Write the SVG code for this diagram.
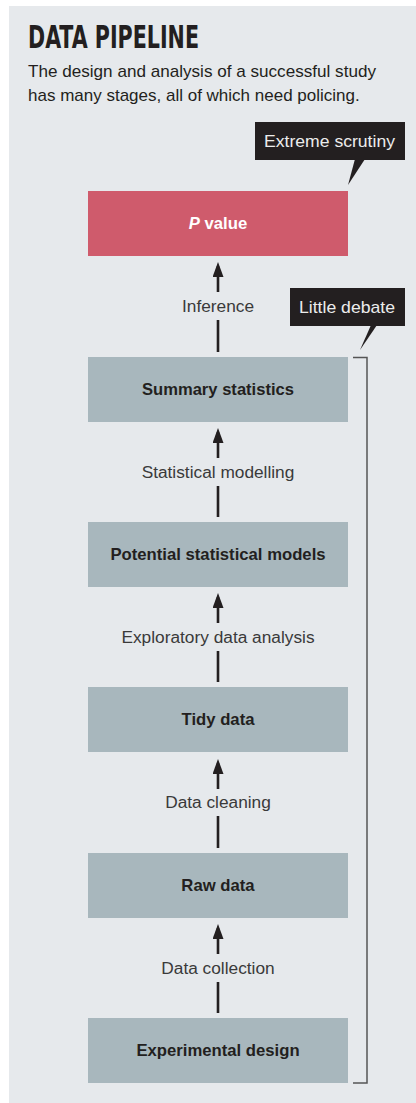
<svg xmlns="http://www.w3.org/2000/svg" width="416" height="1103" viewBox="0 0 416 1103">
<defs>
<style>
.panel{fill:#e6e9ec}
.box{fill:#a8b7bd}
.pbox{fill:#cf5b6c}
.blbl{font-family:"Liberation Sans",Arial,sans-serif;font-weight:bold;font-size:16.7px;fill:#231f20;text-anchor:middle}
.elbl{font-family:"Liberation Sans",Arial,sans-serif;font-size:17.3px;fill:#3a3a3a;text-anchor:middle}
.conn{stroke:#231f20;stroke-width:2.6;fill:none}
.call{fill:#231f20}
.ctxt{font-family:"Liberation Sans",Arial,sans-serif;font-size:17px;fill:#ececec}
.brk{stroke:#555;stroke-width:1.5;fill:none}
</style>
<marker id="ah" viewBox="0 0 15 11" refX="11" refY="5.5" markerWidth="15" markerHeight="11" markerUnits="userSpaceOnUse" orient="auto">
<path d="M0,0 L15,5.5 L0,11 Z" fill="#231f20"/>
</marker>
</defs>
<rect class="panel" x="9" y="6" width="407" height="1097"/>
<g id="title">
<text x="28" y="48" font-family="'Liberation Sans Narrow','DejaVu Sans Condensed','Roboto Condensed',sans-serif" font-stretch="condensed" font-weight="bold" font-size="32" fill="#231f20" textLength="171" lengthAdjust="spacingAndGlyphs">DATA PIPELINE</text>
<text x="28" y="77" font-family="'Liberation Sans',Arial,sans-serif" font-size="17" fill="#231f20" textLength="348" lengthAdjust="spacingAndGlyphs">The design and analysis of a successful study</text>
<text x="28" y="101" font-family="'Liberation Sans',Arial,sans-serif" font-size="17" fill="#231f20">has many stages, all of which need policing.</text>
</g>
<g id="connectors">
<line class="conn" x1="218" y1="292" x2="218" y2="266" marker-end="url(#ah)"/>
<line class="conn" x1="218" y1="320" x2="218" y2="352"/>
<text class="elbl" x="218" y="312">Inference</text>
<line class="conn" x1="218" y1="458" x2="218" y2="432" marker-end="url(#ah)"/>
<line class="conn" x1="218" y1="486" x2="218" y2="517"/>
<text class="elbl" x="218" y="478">Statistical modelling</text>
<line class="conn" x1="218" y1="623" x2="218" y2="597" marker-end="url(#ah)"/>
<line class="conn" x1="218" y1="651" x2="218" y2="682"/>
<text class="elbl" x="218" y="643">Exploratory data analysis</text>
<line class="conn" x1="218" y1="789" x2="218" y2="763" marker-end="url(#ah)"/>
<line class="conn" x1="218" y1="816" x2="218" y2="848"/>
<text class="elbl" x="218" y="808">Data cleaning</text>
<line class="conn" x1="218" y1="954" x2="218" y2="928" marker-end="url(#ah)"/>
<line class="conn" x1="218" y1="982" x2="218" y2="1013"/>
<text class="elbl" x="218" y="974">Data collection</text>
</g>
<g id="pvalue">
<rect class="pbox" x="88" y="191" width="260" height="65"/>
<text x="218" y="229" text-anchor="middle" font-family="'Liberation Sans',Arial,sans-serif" font-weight="bold" font-size="16.7" fill="#ffffff"><tspan font-style="italic">P</tspan> value</text>
</g>
<g id="summary">
<rect class="box" x="88" y="357" width="260" height="65"/>
<text class="blbl" x="218" y="395" textLength="152" lengthAdjust="spacingAndGlyphs">Summary statistics</text>
</g>
<g id="models">
<rect class="box" x="88" y="522" width="260" height="65"/>
<text class="blbl" x="218" y="560">Potential statistical models</text>
</g>
<g id="tidy">
<rect class="box" x="88" y="687" width="260" height="65"/>
<text class="blbl" x="218" y="725">Tidy data</text>
</g>
<g id="raw">
<rect class="box" x="88" y="853" width="260" height="65"/>
<text class="blbl" x="218" y="891">Raw data</text>
</g>
<g id="design">
<rect class="box" x="88" y="1018" width="260" height="65"/>
<text class="blbl" x="218" y="1056">Experimental design</text>
</g>
<g id="extreme-scrutiny">
<rect class="call" x="255" y="122" width="150" height="38"/>
<path class="call" d="M355,159 L365,159 L348,185 Z"/>
<text class="ctxt" x="264" y="147" textLength="131" lengthAdjust="spacingAndGlyphs">Extreme scrutiny</text>
</g>
<g id="little-debate">
<rect class="call" x="290" y="288" width="115" height="38"/>
<path class="call" d="M371,325 L377,325 L360,350 Z"/>
<text class="ctxt" x="299" y="313" textLength="96" lengthAdjust="spacingAndGlyphs">Little debate</text>
<path class="brk" d="M353,357.5 H367 V1083 H353"/>
</g>
</svg>
